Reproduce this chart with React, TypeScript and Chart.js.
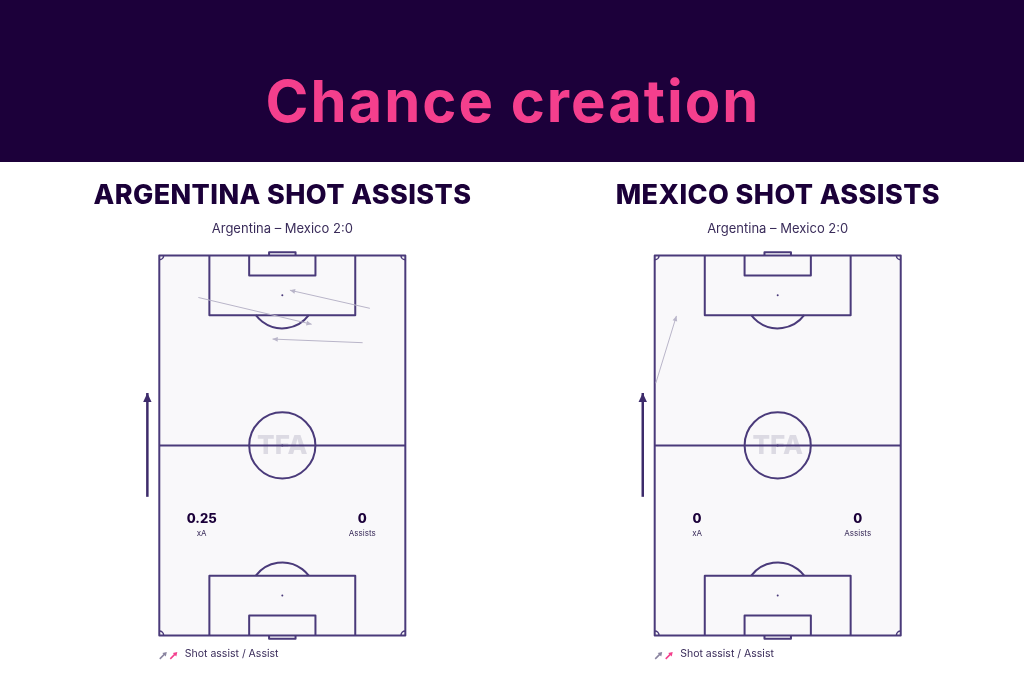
import React, { useEffect, useRef } from "react";
import { Chart, registerables } from "chart.js";

Chart.register(...registerables);

// ---------- data (metres; pitch 68 wide x 105 long, attacking upward) ----------
const PITCH_W = 68;
const PITCH_L = 105;

const argStartX = [58.2, 10.8, 56.2];
const argStartY = [90.4, 93.4, 80.9];
const argEndX = [36.1, 42.1, 31.3];
const argEndY = [95.4, 86.0, 81.9];

const mexStartX = [0.3];
const mexStartY = [69.7];
const mexEndX = [6.0];
const mexEndY = [88.3];

const teamNames = ["ARGENTINA", "MEXICO"];
const matchLabel = "Argentina – Mexico 2:0";
const xAValues = ["0.25", "0"];
const assistValues = ["0", "0"];

// direction-of-play arrow (metres, relative to each pitch)
const dirX = [-3.3, -3.3];
const dirY = [38.3, 67.0];

// ---------- styling / layout ----------
const HEADER_BG = "#1c003a";
const PINK = "#f43f8d";
const DARK = "#1b0039";
const SUB = "#3a2c5a";
const LINE = "#4a3a7a";
const PITCH_FILL = "#f9f8fa";
const ARROW_GREY = "#b9b5c9";

const W = 1024;
const H = 683;
const K = 3.618; // px per metre
const LEFT_PX = [159.3, 654.7];
const TOP_PX = 255.5;
const BOTTOM_PX = TOP_PX + PITCH_L * K;

function arrowSets(sx: number[], sy: number[], ex: number[], ey: number[], axis: string) {
  return sx.map((_, i) => ({
    data: [
      { x: sx[i], y: sy[i] },
      { x: ex[i], y: ey[i] },
    ],
    xAxisID: axis,
    yAxisID: "y",
    showLine: true,
    borderColor: ARROW_GREY,
    backgroundColor: ARROW_GREY,
    borderWidth: 1,
    pointRadius: 0,
    headSize: 4,
  }));
}

function dirSet(axis: string) {
  return {
    data: [
      { x: dirX[0], y: dirY[0] },
      { x: dirX[1], y: dirY[1] },
    ],
    xAxisID: axis,
    yAxisID: "y",
    showLine: true,
    borderColor: "#3d2b6b",
    backgroundColor: "#3d2b6b",
    borderWidth: 2.5,
    pointRadius: 0,
    headSize: 7,
  };
}

function drawPitch(ctx: CanvasRenderingContext2D, xs: any, ys: any) {
  const X = (v: number) => xs.getPixelForValue(v);
  const Y = (v: number) => ys.getPixelForValue(v);
  const k = X(1) - X(0);
  const cx = X(PITCH_W / 2);
  ctx.save();
  ctx.fillStyle = PITCH_FILL;
  ctx.fillRect(X(0), Y(PITCH_L), X(PITCH_W) - X(0), Y(0) - Y(PITCH_L));

  // watermark
  ctx.fillStyle = "#dcdae3";
  ctx.font = "800 26px Inter";
  ctx.textAlign = "center";
  ctx.textBaseline = "middle";
  ctx.fillText("TFA", cx, Y(PITCH_L / 2) + 1);

  ctx.strokeStyle = LINE;
  ctx.lineWidth = 2;
  ctx.lineJoin = "round";
  ctx.strokeRect(X(0), Y(PITCH_L), X(PITCH_W) - X(0), Y(0) - Y(PITCH_L));

  ctx.beginPath();
  ctx.moveTo(X(0), Y(PITCH_L / 2));
  ctx.lineTo(X(PITCH_W), Y(PITCH_L / 2));
  ctx.stroke();

  ctx.beginPath();
  ctx.arc(cx, Y(PITCH_L / 2), 9.15 * k, 0, Math.PI * 2);
  ctx.stroke();

  ctx.fillStyle = LINE;
  ctx.beginPath();
  ctx.arc(cx, Y(PITCH_L / 2), 1, 0, Math.PI * 2);
  ctx.fill();

  const half = Math.acos(5.5 / 9.15);
  const ends: [number, number][] = [
    [PITCH_L, -1],
    [0, 1],
  ];
  for (const [gy, d] of ends) {
    const box = (x0: number, x1: number, depth: number) => {
      ctx.beginPath();
      ctx.moveTo(X(x0), Y(gy));
      ctx.lineTo(X(x0), Y(gy + d * depth));
      ctx.lineTo(X(x1), Y(gy + d * depth));
      ctx.lineTo(X(x1), Y(gy));
      ctx.stroke();
    };
    box(13.84, 54.16, 16.5);
    box(24.84, 43.16, 5.5);
    // goal
    ctx.beginPath();
    ctx.moveTo(X(30.34), Y(gy));
    ctx.lineTo(X(30.34), Y(gy - d * 0.9));
    ctx.lineTo(X(37.66), Y(gy - d * 0.9));
    ctx.lineTo(X(37.66), Y(gy));
    ctx.stroke();
    // spot
    ctx.beginPath();
    ctx.arc(cx, Y(gy + d * 11), 1, 0, Math.PI * 2);
    ctx.fill();
    // arc
    const mid = d < 0 ? Math.PI / 2 : -Math.PI / 2;
    ctx.beginPath();
    ctx.arc(cx, Y(gy + d * 11), 9.15 * k, mid - half, mid + half);
    ctx.stroke();
  }

  // corner arcs
  const r = 1.2 * k;
  ctx.lineWidth = 1.5;
  const corners: [number, number, number][] = [
    [0, PITCH_L, 0],
    [PITCH_W, PITCH_L, Math.PI / 2],
    [PITCH_W, 0, Math.PI],
    [0, 0, 1.5 * Math.PI],
  ];
  for (const [x, y, a] of corners) {
    ctx.beginPath();
    ctx.arc(X(x), Y(y), r, a, a + Math.PI / 2);
    ctx.stroke();
  }

  // legend glyphs
  const ly = Y(0) + 23.5;
  const glyph = (x0: number, color: string) => {
    ctx.strokeStyle = color;
    ctx.fillStyle = color;
    ctx.lineWidth = 1.5;
    ctx.beginPath();
    ctx.moveTo(x0, ly);
    ctx.lineTo(x0 + 5, ly - 5);
    ctx.stroke();
    ctx.beginPath();
    ctx.moveTo(x0 + 7, ly - 7);
    ctx.lineTo(x0 + 2.5, ly - 6);
    ctx.lineTo(x0 + 6, ly - 2.5);
    ctx.closePath();
    ctx.fill();
  };
  glyph(X(0) + 0.5, "#8a84a0");
  glyph(X(0) + 11, PINK);
  ctx.restore();
}

const pitchPlugin = {
  id: "pitch",
  beforeDatasetsDraw(chart: any) {
    const ctx = chart.ctx;
    drawPitch(ctx, chart.scales.x, chart.scales.y);
    drawPitch(ctx, chart.scales.x2, chart.scales.y);
  },
  afterDatasetsDraw(chart: any) {
    const ctx = chart.ctx;
    chart.data.datasets.forEach((ds: any, i: number) => {
      const pts = chart.getDatasetMeta(i).data;
      if (!pts || pts.length < 2) return;
      const a = pts[pts.length - 2];
      const b = pts[pts.length - 1];
      const ang = Math.atan2(b.y - a.y, b.x - a.x);
      const s = ds.headSize || 5;
      ctx.save();
      ctx.fillStyle = ds.borderColor;
      ctx.translate(b.x, b.y);
      ctx.rotate(ang);
      ctx.beginPath();
      ctx.moveTo(0, 0);
      ctx.lineTo(-s * 1.3, -s * 0.6);
      ctx.lineTo(-s * 1.3, s * 0.6);
      ctx.closePath();
      ctx.fill();
      ctx.restore();
    });
  },
};

function Txt(props: {
  cx?: number;
  left?: number;
  base: number;
  size: number;
  weight?: number;
  color: string;
  ls?: number;
  children: React.ReactNode;
}) {
  const { cx, left, base, size, weight = 400, color, ls = 0, children } = props;
  const style: React.CSSProperties = {
    position: "absolute",
    top: base - 0.864 * size,
    fontSize: size,
    lineHeight: `${size}px`,
    fontWeight: weight,
    color,
    whiteSpace: "nowrap",
    letterSpacing: ls,
  };
  if (cx !== undefined) {
    style.left = cx - 300 + ls / 2;
    style.width = 600;
    style.textAlign = "center";
  } else {
    style.left = left;
  }
  return <div style={style}>{children}</div>;
}

export default function App() {
  const ref = useRef<HTMLCanvasElement>(null);

  useEffect(() => {
    const xMin = (i: number) => -LEFT_PX[i] / K;
    const xMax = (i: number) => (W - LEFT_PX[i]) / K;
    const chart = new Chart(ref.current as HTMLCanvasElement, {
      type: "scatter",
      data: {
        datasets: [
          ...arrowSets(argStartX, argStartY, argEndX, argEndY, "x"),
          ...arrowSets(mexStartX, mexStartY, mexEndX, mexEndY, "x2"),
          dirSet("x"),
          dirSet("x2"),
        ] as any,
      },
      options: {
        animation: false,
        responsive: false,
        events: [],
        layout: { padding: 0 },
        plugins: { legend: { display: false }, tooltip: { enabled: false } },
        scales: {
          x: { type: "linear", display: false, min: xMin(0), max: xMax(0) },
          x2: { type: "linear", display: false, min: xMin(1), max: xMax(1) },
          y: {
            type: "linear",
            display: false,
            min: -(H - BOTTOM_PX) / K,
            max: PITCH_L + TOP_PX / K,
          },
        },
      } as any,
      plugins: [pitchPlugin],
    });
    return () => chart.destroy();
  }, []);

  const centers = [282.3, 777.7];
  return (
    <div
      style={{
        position: "absolute",
        left: 0,
        top: 0,
        width: W,
        height: H,
        background: "#ffffff",
        overflow: "hidden",
        fontFamily: "Inter, sans-serif",
      }}
    >
      <div style={{ position: "absolute", left: 0, top: 0, width: W, height: 162, background: HEADER_BG }} />
      <Txt cx={512} base={122} size={58} weight={700} color={PINK} ls={2}>
        Chance creation
      </Txt>
      <canvas
        ref={ref}
        width={W}
        height={H}
        style={{ position: "absolute", left: 0, top: 0, width: W, height: H }}
      />
      {teamNames.map((t, i) => (
        <React.Fragment key={t}>
          <Txt cx={centers[i]} base={204.3} size={27} weight={800} color={DARK} ls={0.4}>
            {t} SHOT ASSISTS
          </Txt>
          <Txt cx={centers[i]} base={233} size={13} color={SUB}>
            {matchLabel}
          </Txt>
          <Txt cx={LEFT_PX[i] + 42.4} base={523.5} size={13} weight={800} color={DARK}>
            {xAValues[i]}
          </Txt>
          <Txt cx={LEFT_PX[i] + 42.4} base={535.7} size={8} color={SUB}>
            xA
          </Txt>
          <Txt cx={LEFT_PX[i] + 203} base={523.5} size={13} weight={800} color={DARK}>
            {assistValues[i]}
          </Txt>
          <Txt cx={LEFT_PX[i] + 203} base={535.7} size={8} color={SUB}>
            Assists
          </Txt>
          <Txt left={LEFT_PX[i] + 25.5} base={658.5} size={10.5} color={SUB}>
            Shot assist / Assist
          </Txt>
        </React.Fragment>
      ))}
    </div>
  );
}
